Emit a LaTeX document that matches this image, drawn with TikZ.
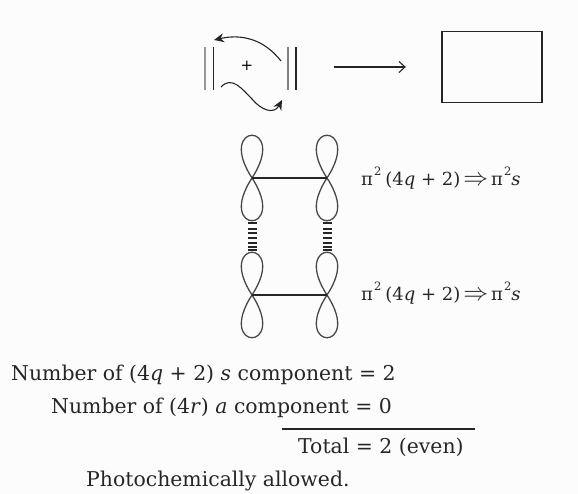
\documentclass[tikz,border=0pt]{standalone}
\usepackage{fontspec}
\setmainfont{DejaVu Serif}
\usetikzlibrary{arrows.meta}
\tikzset{
 line/.style={line width=1.1pt,draw=black!85},
 lobe/.style={line width=1.3pt,draw=black!72},
 txt/.style={inner sep=0pt,anchor=base west,font=\fontsize{20.4}{24}\selectfont,text=black!85},
 lab/.style={inner sep=0pt,anchor=base west,font=\fontsize{18}{20}\selectfont,text=black!85},
 tip/.style={-{Stealth[length=10pt,width=9pt]}},
 pt/.style={inner sep=0pt,minimum size=0pt},
}
\newcommand{\orb}[2]{%
 \node[pt] (#1) at (#2) {};
 \begin{scope}[shift={(#2)}]
 \draw[lobe] (0,0) .. controls (-37,-57) and (37,-57) .. (0,0);
 \draw[lobe] (0,0) .. controls (-37,57) and (37,57) .. (0,0);
 \end{scope}
}
\newcommand{\supr}{\hspace{1pt}\raisebox{10pt}{\fontsize{11.5}{12}\selectfont 2}}
\newcommand{\orbl}{π\supr\hspace{4pt}(4\textit{q} + 2)\hspace{3pt}{\fontsize{24}{24}\selectfont$\Rightarrow$}\hspace{3pt}π\supr\textit{s}}
\begin{document}
\begin{tikzpicture}[x=1pt,y=-1pt]
\useasboundingbox[fill=black!1] (0,0) rectangle (578,494);
% top reaction
\coordinate (a1) at (205,47); \coordinate (a2) at (205,90);
\coordinate (b1) at (213.5,47); \coordinate (b2) at (213.5,90);
\coordinate (c1) at (288,47); \coordinate (c2) at (288,90);
\coordinate (d1) at (296,47); \coordinate (d2) at (296,90);
\draw[line,draw=black!40] (a1)--(a2);
\draw[line] (b1)--(b2);
\draw[line,draw=black!50] (c1)--(c2);
\draw[line] (d1)--(d2);
\node[inner sep=0pt,font=\fontsize{15}{16}\selectfont] (plus) at (247,66) {+};
\coordinate (s1) at (281,61); \coordinate (e1) at (214,40);
\draw[line,tip] (s1) .. controls (263,38) and (240,34) .. (e1);
\coordinate (s2) at (221,87); \coordinate (e2) at (282,100);
\draw[line,tip] (s2) .. controls (232,75) and (243,90) .. (252,99) .. controls (261,110) and (274,115) .. (e2);
\node[pt] (r0) at (334,67) {};
\node[pt] (r1) at (406,67) {};
\draw[line,-{Straight Barb[length=6pt,width=11pt]}] (r0)--(r1);
\node[draw=black!85,line width=1.2pt,minimum width=100pt,minimum height=70.5pt,inner sep=0pt] (box) at (492,67) {};
% orbitals
\orb{ul}{252,178}
\orb{ur}{327,178}
\orb{ll}{252,295}
\orb{lr}{327,295}
\draw[line] (ul.center)--(ur.center);
\draw[line] (ll.center)--(lr.center);
\foreach \y in {229,233,238,243,247}{
  \draw[line width=1.2pt,black!85] (248,\y)--(257,\y);
  \draw[line width=1.2pt,black!85] (323,\y)--(332,\y);
}
\foreach \y in {223.5,250.5}{
  \draw[line width=2pt,black!85] (248,\y)--(257,\y);
  \draw[line width=2pt,black!85] (323,\y)--(332,\y);
}
\node[lab] (l1) at (361,186) {\orbl};
\node[lab] (l2) at (361,301) {\orbl};
% text
\node[txt] (t1) at (11,380) {Number of (4\textit{q} + 2) \textit{s} component = 2};
\node[txt] (t2) at (51,413) {Number of (4\textit{r}) \textit{a} component = 0};
\node[pt] (ru0) at (282,429) {};
\node[pt] (ru1) at (475,429) {};
\draw[line] (ru0)--(ru1);
\node[txt] (t3) at (298,453) {Total = 2 (even)};
\node[txt] (t4) at (86,486) {Photochemically allowed.};
\end{tikzpicture}
\end{document}
